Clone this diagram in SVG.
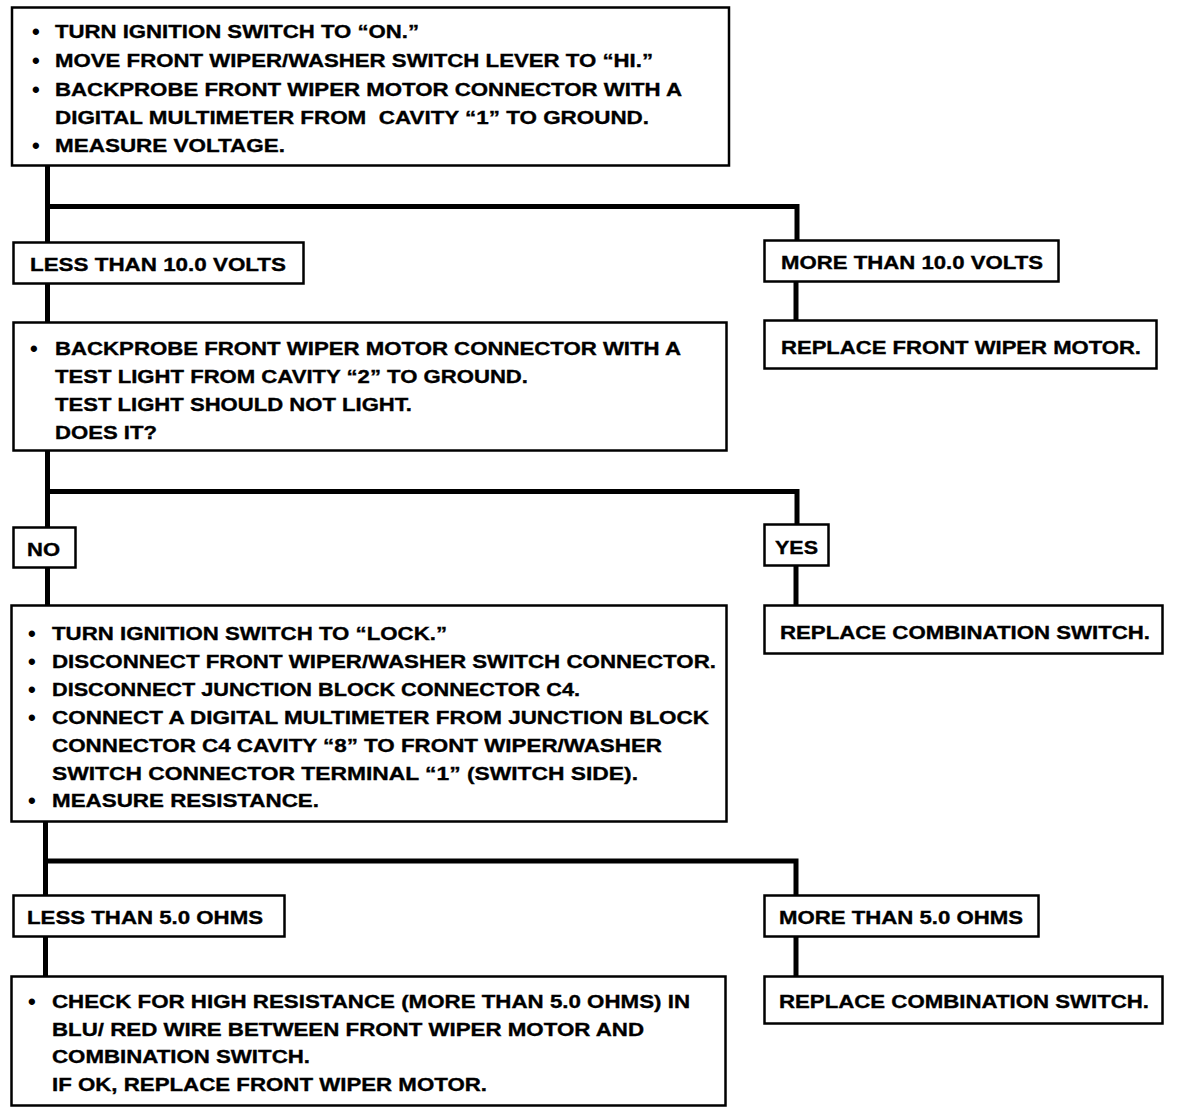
<svg xmlns="http://www.w3.org/2000/svg" width="1184" height="1114" viewBox="0 0 1184 1114">
<style>
.box{fill:#fff;stroke:#000;stroke-width:2.5}
.t{font-family:"Liberation Sans",Arial,sans-serif;font-weight:bold;font-size:18.5px;fill:#000;stroke:#000;stroke-width:0.35}
.b{font-family:"Liberation Sans",Arial,sans-serif;font-weight:bold;font-size:22px;fill:#000}
.c{fill:none;stroke:#000;stroke-width:5;stroke-linecap:butt}
</style>
<rect width="1184" height="1114" fill="#fff"/>
<g id="connectors">
<polyline class="c" points="47.5,166 47.5,242"/>
<polyline class="c" points="45,206.5 797,206.5 797,240"/>
<polyline class="c" points="47.5,284 47.5,322"/>
<polyline class="c" points="796,282 796,320"/>
<polyline class="c" points="47.5,451 47.5,527"/>
<polyline class="c" points="45,491.5 797,491.5 797,524"/>
<polyline class="c" points="47.5,568 47.5,605"/>
<polyline class="c" points="796,566 796,605"/>
<polyline class="c" points="45.5,822 45.5,895"/>
<polyline class="c" points="43,861 796,861 796,895"/>
<polyline class="c" points="45.5,937 45.5,976"/>
<polyline class="c" points="796,937 796,976"/>
</g>
<g id="n1">
<rect class="box" x="12" y="7.5" width="717" height="158"/>
<text class="b" x="32" y="39">•</text><text class="t" x="55" y="38" textLength="364" lengthAdjust="spacingAndGlyphs">TURN IGNITION SWITCH TO “ON.”</text>
<text class="b" x="32" y="68">•</text><text class="t" x="55" y="67" textLength="598" lengthAdjust="spacingAndGlyphs">MOVE FRONT WIPER/WASHER SWITCH LEVER TO “HI.”</text>
<text class="b" x="32" y="97">•</text><text class="t" x="55" y="96" textLength="627" lengthAdjust="spacingAndGlyphs">BACKPROBE FRONT WIPER MOTOR CONNECTOR WITH A</text>
<text class="t" x="55" y="124" textLength="594" lengthAdjust="spacingAndGlyphs" xml:space="preserve">DIGITAL MULTIMETER FROM  CAVITY “1” TO GROUND.</text>
<text class="b" x="32" y="153">•</text><text class="t" x="55" y="152" textLength="230" lengthAdjust="spacingAndGlyphs">MEASURE VOLTAGE.</text>
</g>
<g id="n2">
<rect class="box" x="13.5" y="242.5" width="290" height="41"/>
<text class="t" x="30" y="271" textLength="256" lengthAdjust="spacingAndGlyphs">LESS THAN 10.0 VOLTS</text>
</g>
<g id="n3">
<rect class="box" x="764.5" y="240.5" width="294" height="41"/>
<text class="t" x="781" y="269" textLength="262" lengthAdjust="spacingAndGlyphs">MORE THAN 10.0 VOLTS</text>
</g>
<g id="n4">
<rect class="box" x="13.5" y="322.5" width="713" height="128"/>
<text class="b" x="30" y="356">•</text><text class="t" x="55" y="355" textLength="626" lengthAdjust="spacingAndGlyphs">BACKPROBE FRONT WIPER MOTOR CONNECTOR WITH A</text>
<text class="t" x="55" y="383" textLength="473" lengthAdjust="spacingAndGlyphs">TEST LIGHT FROM CAVITY “2” TO GROUND.</text>
<text class="t" x="55" y="411" textLength="357" lengthAdjust="spacingAndGlyphs">TEST LIGHT SHOULD NOT LIGHT.</text>
<text class="t" x="55" y="439" textLength="102" lengthAdjust="spacingAndGlyphs">DOES IT?</text>
</g>
<g id="n5">
<rect class="box" x="764.5" y="320.5" width="392" height="48"/>
<text class="t" x="781" y="354" textLength="360" lengthAdjust="spacingAndGlyphs">REPLACE FRONT WIPER MOTOR.</text>
</g>
<g id="n6">
<rect class="box" x="13.5" y="527.5" width="62" height="40"/>
<text class="t" x="27" y="556" textLength="33" lengthAdjust="spacingAndGlyphs">NO</text>
</g>
<g id="n7">
<rect class="box" x="764.5" y="524.5" width="64" height="41"/>
<text class="t" x="775" y="554" textLength="43" lengthAdjust="spacingAndGlyphs">YES</text>
</g>
<g id="n8">
<rect class="box" x="11.5" y="605.5" width="715" height="216"/>
<text class="b" x="28" y="641">•</text><text class="t" x="52" y="640" textLength="395" lengthAdjust="spacingAndGlyphs">TURN IGNITION SWITCH TO “LOCK.”</text>
<text class="b" x="28" y="669">•</text><text class="t" x="52" y="668" textLength="664" lengthAdjust="spacingAndGlyphs">DISCONNECT FRONT WIPER/WASHER SWITCH CONNECTOR.</text>
<text class="b" x="28" y="697">•</text><text class="t" x="52" y="696" textLength="528" lengthAdjust="spacingAndGlyphs">DISCONNECT JUNCTION BLOCK CONNECTOR C4.</text>
<text class="b" x="28" y="725">•</text><text class="t" x="52" y="724" textLength="657" lengthAdjust="spacingAndGlyphs">CONNECT A DIGITAL MULTIMETER FROM JUNCTION BLOCK</text>
<text class="t" x="52" y="752" textLength="610" lengthAdjust="spacingAndGlyphs">CONNECTOR C4 CAVITY “8” TO FRONT WIPER/WASHER</text>
<text class="t" x="52" y="780" textLength="586" lengthAdjust="spacingAndGlyphs">SWITCH CONNECTOR TERMINAL “1” (SWITCH SIDE).</text>
<text class="b" x="28" y="808">•</text><text class="t" x="52" y="807" textLength="267" lengthAdjust="spacingAndGlyphs">MEASURE RESISTANCE.</text>
</g>
<g id="n9">
<rect class="box" x="764.5" y="605.5" width="398" height="48"/>
<text class="t" x="780" y="639" textLength="370" lengthAdjust="spacingAndGlyphs">REPLACE COMBINATION SWITCH.</text>
</g>
<g id="n10">
<rect class="box" x="13.5" y="895.5" width="271" height="41"/>
<text class="t" x="27" y="924" textLength="236" lengthAdjust="spacingAndGlyphs">LESS THAN 5.0 OHMS</text>
</g>
<g id="n11">
<rect class="box" x="764.5" y="895.5" width="274" height="41"/>
<text class="t" x="779" y="924" textLength="244" lengthAdjust="spacingAndGlyphs">MORE THAN 5.0 OHMS</text>
</g>
<g id="n12">
<rect class="box" x="11.5" y="976.5" width="714" height="129"/>
<text class="b" x="28" y="1009">•</text><text class="t" x="52" y="1008" textLength="638" lengthAdjust="spacingAndGlyphs">CHECK FOR HIGH RESISTANCE (MORE THAN 5.0 OHMS) IN</text>
<text class="t" x="52" y="1036" textLength="592" lengthAdjust="spacingAndGlyphs">BLU/ RED WIRE BETWEEN FRONT WIPER MOTOR AND</text>
<text class="t" x="52" y="1063" textLength="258" lengthAdjust="spacingAndGlyphs">COMBINATION SWITCH.</text>
<text class="t" x="52" y="1091" textLength="435" lengthAdjust="spacingAndGlyphs">IF OK, REPLACE FRONT WIPER MOTOR.</text>
</g>
<g id="n13">
<rect class="box" x="764.5" y="976.5" width="398" height="47"/>
<text class="t" x="779" y="1008" textLength="370" lengthAdjust="spacingAndGlyphs">REPLACE COMBINATION SWITCH.</text>
</g>
</svg>
